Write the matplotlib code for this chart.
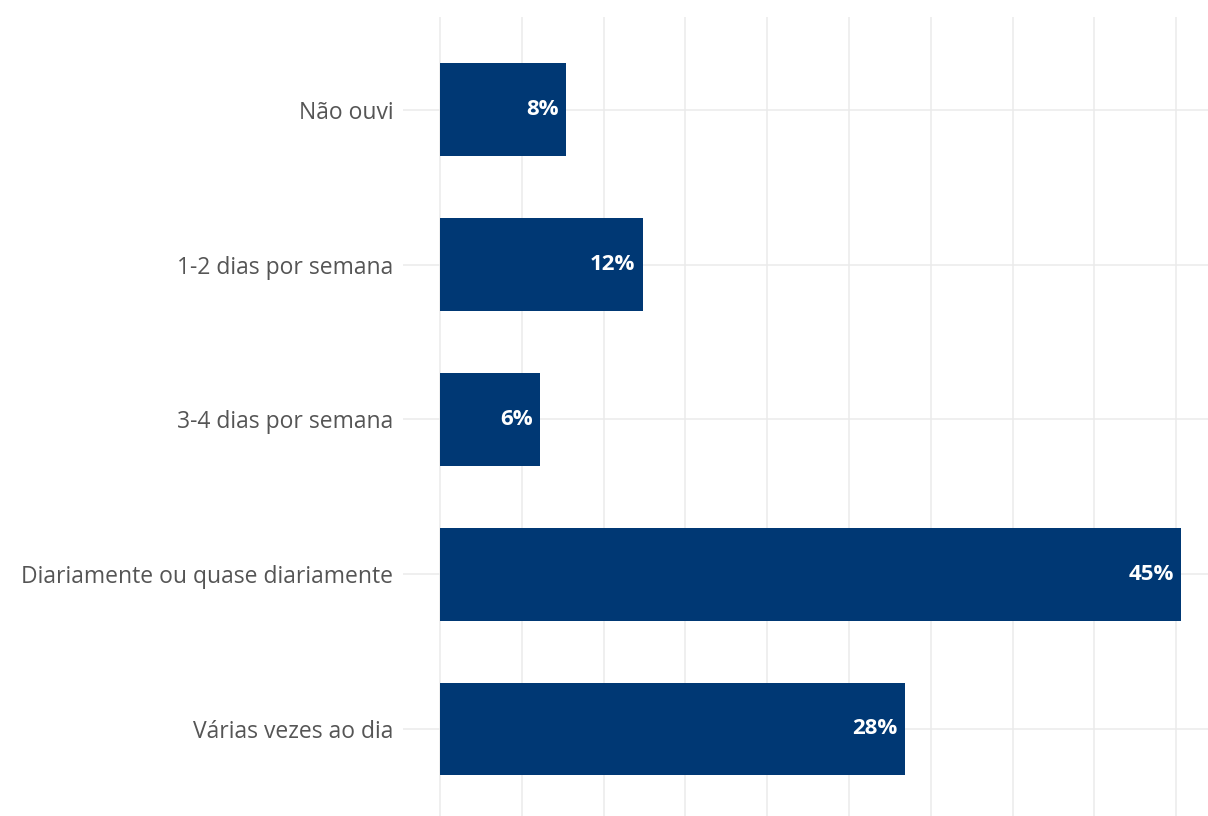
import matplotlib
matplotlib.use("Agg")
import matplotlib.pyplot as plt

categories = ["Várias vezes ao dia", "Diariamente ou quase diariamente",
              "3-4 dias por semana", "1-2 dias por semana", "Não ouvi"]
values = [28.4, 45.3, 6.1, 12.4, 7.7]
labels = ["28%", "45%", "6%", "12%", "8%"]

W, H = 1208, 816
fig = plt.figure(figsize=(W/100, H/100), dpi=100)
px_per_unit = (1181 - 440) / 45.3
x0 = -(440 - 403) / px_per_unit
x1 = (W - 440) / px_per_unit
unit_y = 154.75
ax = fig.add_axes([403/W, 0, 1 - 403/W, (816 - 17)/H])
ypos = list(range(1, len(categories) + 1))
ax.set_xlim(x0, x1)
ax.set_ylim(1 - (816 - 729)/unit_y, 5.6)

for x in range(0, 50, 5):
    ax.axvline(x, color="#EBEBEB", lw=1.1, zorder=0)
for y in ypos:
    ax.axhline(y, color="#EBEBEB", lw=1.1, zorder=0)

ax.barh(ypos, values, height=0.6, color="#003874", zorder=2)
for y, v, lab in zip(ypos, values, labels):
    ax.text(v - 0.45, y, lab, ha="right", va="center", color="white",
            fontsize=16, fontweight="bold", family="Open Sans", zorder=3)

ax.set_yticks(ypos)
ax.set_yticklabels(categories, fontsize=16.5, color="#555555", family="Open Sans")
ax.tick_params(axis="y", length=0, pad=7)
ax.set_xticks([])
for s in ax.spines.values():
    s.set_visible(False)

fig.savefig("out.png", dpi=100)
